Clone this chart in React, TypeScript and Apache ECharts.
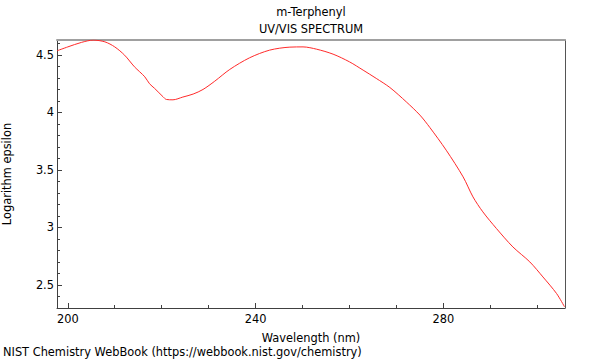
import React, { useEffect, useRef } from "react";
import * as echarts from "echarts";

const wavelength = [
  197.7, 200.0, 202.9, 205.4, 207.9, 210.0, 212.1, 214.2, 216.4, 217.4, 218.5,
  220.3, 221.0, 222.4, 224.5, 226.7, 228.8, 231.3, 234.5, 238.7, 243.0, 247.3,
  250.1, 253.0, 256.5, 260.0, 262.9, 265.7, 268.6, 272.1, 275.0, 277.1, 280.6,
  284.2, 286.3, 288.4, 291.3, 294.8, 298.4, 301.2, 304.1, 305.8,
];
const logEpsilon = [
  4.536, 4.57, 4.609, 4.629, 4.614, 4.57, 4.498, 4.397, 4.31, 4.25, 4.209,
  4.136, 4.113, 4.11, 4.134, 4.16, 4.2, 4.272, 4.374, 4.475, 4.542, 4.568,
  4.57, 4.55, 4.507, 4.44, 4.368, 4.296, 4.217, 4.092, 3.977, 3.87, 3.672,
  3.44, 3.266, 3.136, 2.991, 2.831, 2.701, 2.57, 2.426, 2.31,
];
const xMajorTicks = [200, 240, 280];
const xMinorTicks = [200, 210, 220, 230, 240, 250, 260, 270, 280, 290, 300];
const yMajorTicks = [2.5, 3, 3.5, 4, 4.5];
const yMinorTicks = [
  2.4, 2.5, 2.6, 2.7, 2.8, 2.9, 3.0, 3.1, 3.2, 3.3, 3.4, 3.5, 3.6, 3.7, 3.8,
  3.9, 4.0, 4.1, 4.2, 4.3, 4.4, 4.5, 4.6,
];
const xMin = 197.7;
const xMax = 305.9;
const yMin = 2.3;
const yMax = 4.63;

const FONT = "DejaVu Sans";
const FS = 11.4;
const DARK = "#404040";

export default function App() {
  const ref = useRef<HTMLDivElement>(null);
  useEffect(() => {
    document.body.style.margin = "0";
    if (!ref.current) return;
    const chart = echarts.init(ref.current, null, { renderer: "svg" });
    const hidden = { show: false };
    chart.setOption({
      animation: false,
      textStyle: { fontFamily: FONT },
      grid: {
        left: 57,
        top: 40,
        right: 35,
        bottom: 52,
        containLabel: false,
        outerBoundsMode: "none",
      },
      graphic: [
        {
          type: "text",
          x: 311,
          y: 12,
          style: {
            text: "m-Terphenyl",
            font: `${FS}px '${FONT}'`,
            fill: "#000",
            textAlign: "center",
            textVerticalAlign: "middle",
          },
        },
        {
          type: "text",
          x: 311,
          y: 29,
          style: {
            text: "UV/VIS SPECTRUM",
            font: `${FS}px '${FONT}'`,
            fill: "#000",
            textAlign: "center",
            textVerticalAlign: "middle",
          },
        },
        {
          type: "text",
          x: 3,
          y: 352,
          style: {
            text: "NIST Chemistry WebBook (https://webbook.nist.gov/chemistry)",
            font: `${FS}px '${FONT}'`,
            fill: "#000",
            textAlign: "left",
            textVerticalAlign: "middle",
          },
        },
      ],
      xAxis: [
        {
          type: "value",
          min: xMin,
          max: xMax,
          position: "bottom",
          name: "Wavelength (nm)",
          nameLocation: "middle",
          nameGap: 24,
          nameTextStyle: { color: "#000", fontSize: FS, fontFamily: FONT },
          axisLine: { show: true, lineStyle: { color: DARK, width: 1 } },
          axisTick: {
            show: true,
            inside: true,
            length: 5,
            customValues: xMajorTicks,
            lineStyle: { color: DARK },
          },
          axisLabel: {
            show: true,
            customValues: xMajorTicks,
            color: "#000",
            fontSize: FS,
            fontFamily: FONT,
            margin: 5,
          },
          splitLine: hidden,
        },
        {
          type: "value",
          min: xMin,
          max: xMax,
          position: "bottom",
          axisLine: hidden,
          axisTick: {
            show: true,
            inside: true,
            length: 3,
            customValues: xMinorTicks,
            lineStyle: { color: DARK },
          },
          axisLabel: hidden,
          splitLine: hidden,
        },
        {
          type: "value",
          min: xMin,
          max: xMax,
          position: "top",
          axisLine: { show: true, lineStyle: { color: "#a0a0a0", width: 2 } },
          axisTick: hidden,
          axisLabel: hidden,
          splitLine: hidden,
        },
      ],
      yAxis: [
        {
          type: "value",
          min: yMin,
          max: yMax,
          position: "left",
          name: "Logarithm epsilon",
          nameLocation: "middle",
          nameGap: 45,
          nameTextStyle: { color: "#000", fontSize: FS, fontFamily: FONT },
          axisLine: { show: true, lineStyle: { color: DARK, width: 1 } },
          axisTick: {
            show: true,
            inside: true,
            length: 5,
            customValues: yMajorTicks,
            lineStyle: { color: DARK },
          },
          axisLabel: {
            show: true,
            customValues: yMajorTicks,
            color: "#000",
            fontSize: FS,
            fontFamily: FONT,
            margin: 3,
          },
          splitLine: hidden,
        },
        {
          type: "value",
          min: yMin,
          max: yMax,
          position: "left",
          axisLine: hidden,
          axisTick: {
            show: true,
            inside: true,
            length: 3,
            customValues: yMinorTicks,
            lineStyle: { color: DARK },
          },
          axisLabel: hidden,
          splitLine: hidden,
        },
        {
          type: "value",
          min: yMin,
          max: yMax,
          position: "right",
          axisLine: { show: true, lineStyle: { color: "#555", width: 1 } },
          axisTick: hidden,
          axisLabel: hidden,
          splitLine: hidden,
        },
      ],
      series: [
        {
          type: "line",
          xAxisIndex: 0,
          yAxisIndex: 0,
          data: wavelength.map((w, i) => [w, logEpsilon[i]]),
          showSymbol: false,
          smooth: 0.3,
          lineStyle: { color: "#ff2a2a", width: 1 },
          clip: true,
        },
      ],
    });
    return () => chart.dispose();
  }, []);
  return <div ref={ref} style={{ width: 600, height: 360 }} />;
}
